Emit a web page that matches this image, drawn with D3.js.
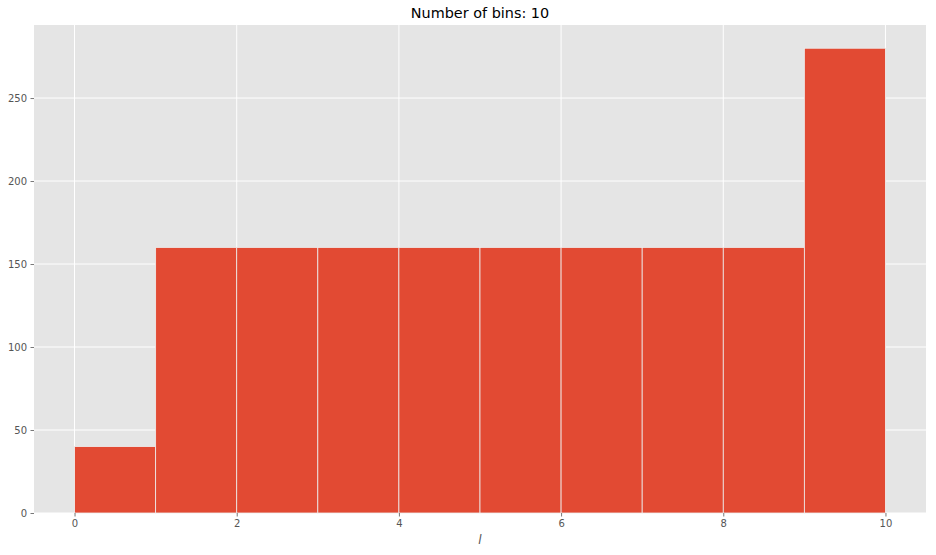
<!DOCTYPE html>
<html lang="en">
	<head>
		<meta charset="utf-8">
		<script src="https://d3js.org/d3.v7.min.js"></script>
		<style>
			body { margin: 0; background: #fff; }
			text { font-family: "DejaVu Sans", sans-serif; }
		</style>
	</head>
	<body>
		<script type="text/javascript">

			//Data: histogram bins and counts
			var binEdges = [0, 1, 2, 3, 4, 5, 6, 7, 8, 9, 10];
			var counts = [40, 160, 160, 160, 160, 160, 160, 160, 160, 280];
			var xTicks = [0, 2, 4, 6, 8, 10];
			var yTicks = [0, 50, 100, 150, 200, 250];
			var title = "Number of bins: 10";
			var xLabel = "l";

			var bins = counts.map(function(c, i) {
				return { x0: binEdges[i], x1: binEdges[i + 1], n: c };
			});

			//Width and height
			var w = 936;
			var h = 555;
			var margin = { top: 25, right: 10, bottom: 42, left: 34 };

			var svg = d3.select("body")
						.append("svg")
						.attr("width", w)
						.attr("height", h);

			var x = d3.scaleLinear()
					  .domain([-0.5, 10.5])
					  .range([margin.left, w - margin.right]);

			var y = d3.scaleLinear()
					  .domain([0, d3.max(counts) * 1.05])
					  .range([h - margin.bottom, margin.top]);

			//Panel background
			svg.append("rect")
			   .attr("x", margin.left)
			   .attr("y", margin.top)
			   .attr("width", w - margin.left - margin.right)
			   .attr("height", h - margin.top - margin.bottom)
			   .style("fill", "#e5e5e5");

			//Grid
			svg.append("g")
			   .selectAll("line")
			   .data(xTicks)
			   .enter()
			   .append("line")
			   .attr("x1", d => x(d))
			   .attr("x2", d => x(d))
			   .attr("y1", margin.top)
			   .attr("y2", h - margin.bottom)
			   .style("stroke", "#fff")
			   .style("stroke-width", 1);

			svg.append("g")
			   .selectAll("line")
			   .data(yTicks)
			   .enter()
			   .append("line")
			   .attr("x1", margin.left)
			   .attr("x2", w - margin.right)
			   .attr("y1", d => y(d))
			   .attr("y2", d => y(d))
			   .style("stroke", "#fff")
			   .style("stroke-width", 1);

			//Bars
			svg.append("g")
			   .selectAll("rect")
			   .data(bins)
			   .enter()
			   .append("rect")
			   .attr("x", d => x(d.x0))
			   .attr("y", d => y(d.n))
			   .attr("width", d => x(d.x1) - x(d.x0))
			   .attr("height", d => y(0) - y(d.n))
			   .style("fill", "#E24A33")
			   .style("stroke", "#eeeeee")
			   .style("stroke-width", 0.8);

			//Axes
			var xAxis = svg.append("g")
						   .attr("transform", "translate(0," + (h - margin.bottom) + ")")
						   .call(d3.axisBottom(x).tickValues(xTicks).tickSize(3.5).tickPadding(3.5));

			var yAxis = svg.append("g")
						   .attr("transform", "translate(" + margin.left + ",0)")
						   .call(d3.axisLeft(y).tickValues(yTicks).tickSize(3.5).tickPadding(3.5));

			[xAxis, yAxis].forEach(function(a) {
				a.select(".domain").remove();
				a.selectAll(".tick line").style("stroke", "#555").style("stroke-width", 0.8);
				a.selectAll(".tick text")
				 .style("fill", "#555")
				 .style("font-size", "10px")
				 .style("font-family", "DejaVu Sans, sans-serif");
			});

			//Title
			svg.append("text")
			   .attr("x", (margin.left + w - margin.right) / 2)
			   .attr("y", margin.top - 7)
			   .attr("text-anchor", "middle")
			   .style("font-size", "14.4px")
			   .style("fill", "#000")
			   .text(title);

			//X label
			svg.append("text")
			   .attr("x", (margin.left + w - margin.right) / 2)
			   .attr("y", h - 11)
			   .attr("text-anchor", "middle")
			   .style("font-size", "12px")
			   .style("font-style", "italic")
			   .style("fill", "#555")
			   .text(xLabel);

		</script>
	</body>
</html>
